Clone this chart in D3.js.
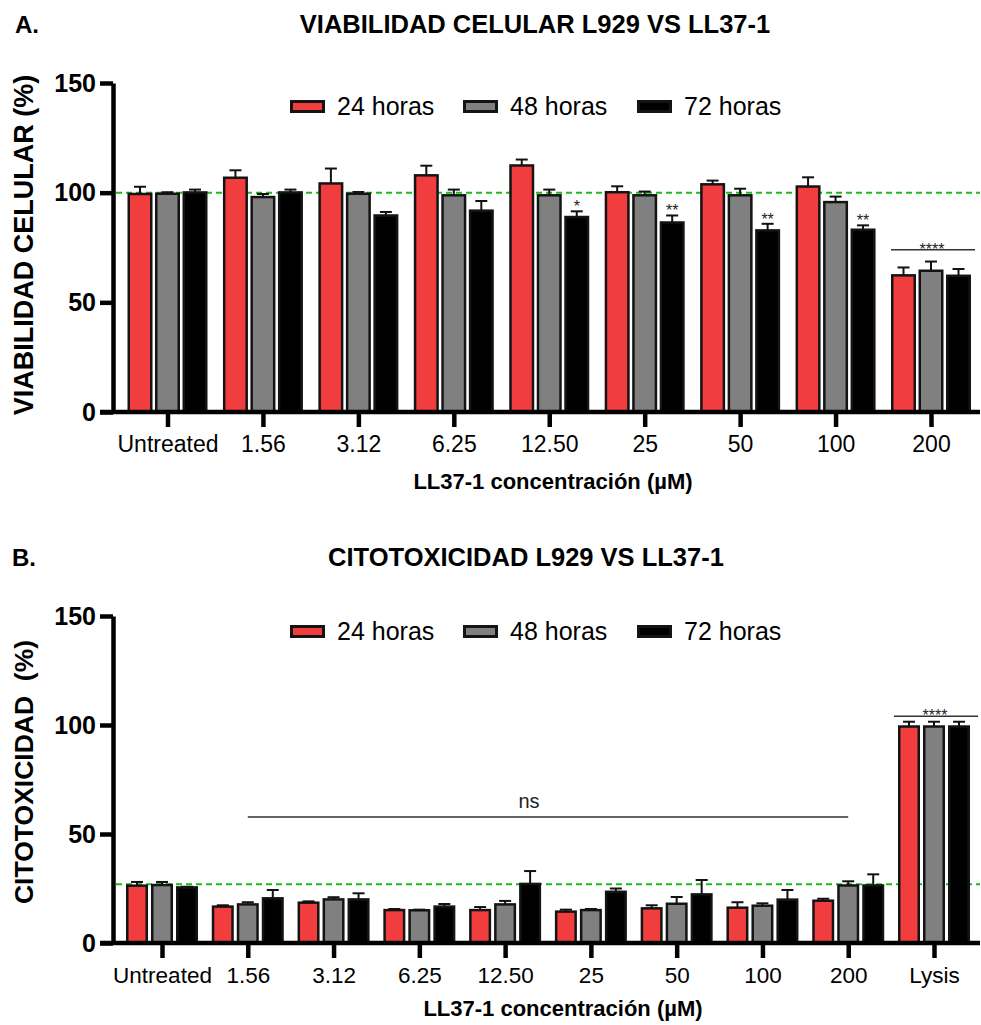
<!DOCTYPE html>
<html>
<head>
<meta charset="utf-8">
<script src="https://cdn.jsdelivr.net/npm/d3@7"></script>
<style>
  html, body { margin: 0; padding: 0; background: #fff; }
  svg { display: block; font-family: "Liberation Sans", Arial, sans-serif; }
</style>
</head>
<body>
<svg id="chart" width="981" height="1025"></svg>
<script>
// ---------------- DATA ----------------
const seriesNames = ["24 horas", "48 horas", "72 horas"];
const seriesColors = ["#f23d3f", "#808080", "#000000"];
const yTicks = [0, 50, 100, 150];

// Panel A : viabilidad celular
const catsA = ["Untreated", "1.56", "3.12", "6.25", "12.50", "25", "50", "100", "200"];
const viab24 = [99.4, 106.8, 104.2, 107.9, 112.4, 100.2, 103.8, 102.8, 62.3];
const viab48 = [99.5, 98.0, 99.5, 98.8, 98.8, 98.8, 98.8, 95.7, 64.4];
const viab72 = [100.1, 100.1, 89.6, 91.8, 88.9, 86.4, 82.8, 83.1, 62.1];
const viabSd24 = [3.3, 3.4, 6.8, 4.4, 2.7, 2.7, 1.7, 4.2, 3.6];
const viabSd48 = [0.7, 1.4, 0.8, 2.6, 2.6, 1.7, 3.0, 2.5, 4.2];
const viabSd72 = [1.3, 1.3, 1.6, 4.4, 2.6, 3.2, 3.0, 2.0, 3.1];
const viabStars72 = ["", "", "", "", "*", "**", "**", "**", ""];
const viabRef = 100;
const viabGroupSig = { cat: "200", value: 74, label: "****" };

// Panel B : citotoxicidad
const catsB = ["Untreated", "1.56", "3.12", "6.25", "12.50", "25", "50", "100", "200", "Lysis"];
const cito24 = [26.3, 16.7, 18.5, 15.1, 15.1, 14.4, 15.9, 16.2, 19.4, 99.3];
const cito48 = [26.6, 17.7, 20.0, 15.0, 17.7, 15.1, 18.0, 17.1, 26.4, 99.3];
const cito72 = [25.5, 20.5, 20.0, 16.7, 27.1, 23.5, 22.3, 19.9, 26.4, 99.3];
const citoSd24 = [1.7, 0.6, 0.6, 0.5, 1.4, 0.9, 1.4, 2.5, 0.9, 2.2];
const citoSd48 = [1.4, 1.0, 1.0, 0.3, 1.6, 0.5, 3.1, 1.1, 1.9, 2.2];
const citoSd72 = [0.3, 3.8, 2.8, 1.2, 5.9, 1.5, 6.6, 4.4, 5.1, 2.2];
const citoRef = 27;
const citoNs = { from: "1.56", to: "200", value: 57.8, label: "ns" };
const citoGroupSig = { cat: "Lysis", value: 104, label: "****" };

// ---------------- DRAW ----------------
const svg = d3.select("#chart");
const FONT = '"Liberation Sans", Arial, sans-serif';
const color = d3.scaleOrdinal().domain(seriesNames).range(seriesColors);

function panel(cfg) {
  const g = svg.append("g");
  const y = d3.scaleLinear().domain([0, 150]).range([cfg.y0, cfg.y150]);
  const x = d3.scalePoint().domain(cfg.cats).range(cfg.xRange);
  const off = d3.scalePoint().domain(seriesNames).range([-cfg.offset, cfg.offset]);

  // panel letter + title
  g.append("text").attr("x", cfg.letterX).attr("y", cfg.titleY)
    .attr("font-size", 24).attr("font-weight", "bold").text(cfg.letter);
  g.append("text").attr("x", cfg.titleX).attr("y", cfg.titleY)
    .attr("text-anchor", "middle").attr("font-size", 25.5).attr("font-weight", "bold")
    .text(cfg.title);

  // y label
  g.append("text")
    .attr("transform", `translate(33,${cfg.yLabelY}) rotate(-90)`)
    .attr("text-anchor", "middle").attr("font-size", cfg.yLabelSize).attr("font-weight", "bold")
    .attr("xml:space", "preserve").style("white-space", "pre")
    .text(cfg.yLabel);

  // reference dashed line
  g.append("line")
    .attr("x1", 116).attr("x2", 980)
    .attr("y1", y(cfg.ref)).attr("y2", y(cfg.ref))
    .attr("stroke", "#1dbb1d").attr("stroke-width", 2).attr("stroke-dasharray", "6,4");

  // bars
  const rows = [];
  cfg.cats.forEach((c, i) => {
    seriesNames.forEach((s, k) => {
      rows.push({ cat: c, series: s, v: cfg.vals[k][i], sd: cfg.sds[k][i],
                  star: k === 2 && cfg.stars ? cfg.stars[i] : "" });
    });
  });
  const sw = 2.5;
  const bw = cfg.barOuter - sw;
  const bars = g.append("g");
  bars.selectAll("rect").data(rows).join("rect")
    .attr("x", d => x(d.cat) + off(d.series) - bw / 2)
    .attr("width", bw)
    .attr("y", d => y(d.v))
    .attr("height", d => y(0) - y(d.v))
    .attr("fill", d => color(d.series))
    .attr("stroke", "#141414").attr("stroke-width", sw);

  // error bars (upper)
  const eb = g.append("g").attr("stroke", "#111").attr("stroke-width", 2);
  eb.selectAll("line.v").data(rows).join("line").attr("class", "v")
    .attr("x1", d => x(d.cat) + off(d.series)).attr("x2", d => x(d.cat) + off(d.series))
    .attr("y1", d => y(d.v)).attr("y2", d => y(d.v + d.sd));
  eb.selectAll("line.c").data(rows).join("line").attr("class", "c")
    .attr("x1", d => x(d.cat) + off(d.series) - 6).attr("x2", d => x(d.cat) + off(d.series) + 6)
    .attr("y1", d => y(d.v + d.sd)).attr("y2", d => y(d.v + d.sd));

  // stars above individual bars
  g.selectAll("text.star").data(rows.filter(d => d.star)).join("text").attr("class", "star")
    .attr("x", d => x(d.cat) + off(d.series)).attr("y", d => y(d.v + d.sd) + 1)
    .attr("text-anchor", "middle").attr("font-size", 16).attr("fill", "#222")
    .text(d => d.star);

  // group significance
  const gs = cfg.groupSig;
  g.append("line")
    .attr("x1", x(gs.cat) - 40).attr("x2", x(gs.cat) + 44)
    .attr("y1", y(gs.value)).attr("y2", y(gs.value))
    .attr("stroke", "#333").attr("stroke-width", 1.6);
  g.append("text").attr("x", x(gs.cat) + 1).attr("y", y(gs.value) + 5)
    .attr("text-anchor", "middle").attr("font-size", 16).attr("fill", "#222").text(gs.label);

  if (cfg.ns) {
    const ns = cfg.ns;
    const x1 = x(ns.from), x2 = x(ns.to);
    g.append("line").attr("x1", x1).attr("x2", x2)
      .attr("y1", y(ns.value)).attr("y2", y(ns.value))
      .attr("stroke", "#333").attr("stroke-width", 1.6);
    g.append("text").attr("x", (x1 + x2) / 2 - 19).attr("y", y(ns.value) - 9)
      .attr("text-anchor", "middle").attr("font-size", 20).attr("fill", "#222").text(ns.label);
  }

  // y axis
  const ya = g.append("g").attr("transform", "translate(113,0)")
    .call(d3.axisLeft(y).tickValues(yTicks).tickSize(13).tickSizeOuter(0).tickPadding(4));
  ya.select(".domain").attr("stroke", "#000").attr("stroke-width", 4.5);
  ya.selectAll(".tick line").attr("stroke", "#000").attr("stroke-width", 4.5);
  ya.selectAll(".tick text").attr("font-size", 25).attr("font-weight", "bold")
    .attr("font-family", FONT).attr("fill", "#000");

  // x axis
  g.append("line").attr("x1", 100).attr("x2", 980).attr("y1", y(0)).attr("y2", y(0))
    .attr("stroke", "#000").attr("stroke-width", 4.5);
  const xa = g.append("g").attr("transform", `translate(0,${y(0)})`)
    .call(d3.axisBottom(x).tickSize(15).tickSizeOuter(0));
  xa.select(".domain").remove();
  xa.selectAll(".tick line").attr("stroke", "#000").attr("stroke-width", 4.5);
  xa.selectAll(".tick text").attr("font-size", cfg.xTickSize).attr("font-family", FONT)
    .attr("fill", "#000").attr("dy", 0).attr("y", 40);

  // x title
  g.append("text").attr("x", cfg.xTitleX).attr("y", cfg.xTitleY)
    .attr("text-anchor", "middle").attr("font-size", 22).attr("font-weight", "bold")
    .text("LL37-1 concentración (µM)");

  // legend
  const lg = g.append("g");
  const legX = [290, 463, 637];
  seriesNames.forEach((s, k) => {
    lg.append("rect").attr("x", legX[k] + 1.5).attr("y", cfg.legY - 5)
      .attr("width", 32).attr("height", 10)
      .attr("fill", color(s)).attr("stroke", "#141414").attr("stroke-width", 3);
    lg.append("text").attr("x", legX[k] + 47).attr("y", cfg.legY + 8.5)
      .attr("font-size", 25).text(s);
  });
}

panel({
  letter: "A.", letterX: 15, title: "VIABILIDAD CELULAR L929 VS LL37-1", titleX: 535, titleY: 33,
  yLabel: "VIABILIDAD CELULAR (%)", yLabelY: 245, yLabelSize: 27,
  y0: 412, y150: 83, cats: catsA, xRange: [167.5, 931], offset: 27.5, barOuter: 25,
  vals: [viab24, viab48, viab72], sds: [viabSd24, viabSd48, viabSd72], stars: viabStars72,
  ref: viabRef, groupSig: viabGroupSig, ns: null,
  xTickSize: 23, xTitleX: 553, xTitleY: 489, legY: 106.5
});

panel({
  letter: "B.", letterX: 12, title: "CITOTOXICIDAD L929 VS LL37-1", titleX: 526, titleY: 566,
  yLabel: "CITOTOXICIDAD  (%)", yLabelY: 772, yLabelSize: 26.5,
  y0: 943, y150: 616, cats: catsB, xRange: [162, 934], offset: 25, barOuter: 22,
  vals: [cito24, cito48, cito72], sds: [citoSd24, citoSd48, citoSd72], stars: null,
  ref: citoRef, groupSig: citoGroupSig, ns: citoNs,
  xTickSize: 22.5, xTitleX: 563, xTitleY: 1016, legY: 631.5
});
</script>
</body>
</html>
